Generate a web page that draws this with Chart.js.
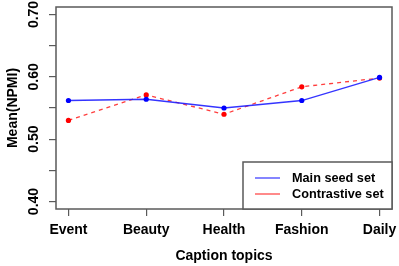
<!DOCTYPE html>
<html>
<head>
<meta charset="utf-8">
<script src="https://cdn.jsdelivr.net/npm/chart.js@4"></script>
<style>
  html, body { margin: 0; padding: 0; background: #fff; }
  #wrap { width: 399px; height: 266px; }
</style>
</head>
<body>
<div id="wrap"><canvas id="chart" width="399" height="266"></canvas></div>
<script>
const topics = ['Event', 'Beauty', 'Health', 'Fashion', 'Daily'];
const mainSeed = [0.562, 0.564, 0.550, 0.562, 0.599];
const contrastive = [0.530, 0.571, 0.540, 0.584, 0.598];
const yTicks = [0.40, 0.45, 0.50, 0.55, 0.60, 0.65, 0.70];
const yLabels = [0.40, 0.50, 0.60, 0.70];

const FONT = '"Liberation Sans", Arial, Helvetica, sans-serif';
const AXIS = '#5a5a5a';

// R style frame + legend in the bottom right corner
const frame = {
    id: 'frame',
    afterDraw(chart) {
        const {ctx, chartArea: a} = chart;
        ctx.save();
        ctx.strokeStyle = AXIS;
        ctx.lineWidth = 1.5;
        ctx.strokeRect(a.left, a.top, a.right - a.left, a.bottom - a.top);

        const lx = a.right - 149, ly = a.bottom - 47;
        ctx.fillStyle = '#fff';
        ctx.fillRect(lx, ly, a.right - lx, a.bottom - ly);
        ctx.strokeRect(lx, ly, a.right - lx, a.bottom - ly);

        ctx.font = 'bold 12.7px ' + FONT;
        ctx.textBaseline = 'middle';
        chart.data.datasets.forEach((ds, i) => {
            const y = ly + 16 + i * 16;
            ctx.strokeStyle = ds.borderColor;
            ctx.lineWidth = 1.2;
            ctx.beginPath();
            ctx.moveTo(lx + 12, y);
            ctx.lineTo(lx + 37, y);
            ctx.stroke();
            ctx.fillStyle = '#000';
            ctx.fillText(ds.label, lx + 49, y);
        });
        ctx.restore();
    }
};

new Chart(document.getElementById('chart'), {
    type: 'line',
    data: {
        datasets: [
            {
                label: 'Main seed set',
                data: mainSeed.map((v, i) => ({x: i + 1, y: v})),
                borderColor: 'rgba(30,30,255,0.9)',
                backgroundColor: '#0000ff',
                borderWidth: 1.3,
                pointRadius: 2.6,
                pointBorderWidth: 0
            },
            {
                label: 'Contrastive set',
                data: contrastive.map((v, i) => ({x: i + 1, y: v})),
                borderColor: 'rgba(255,40,40,0.9)',
                backgroundColor: '#ff0000',
                borderWidth: 1.3,
                borderDash: [4, 4],
                pointRadius: 2.6,
                pointBorderWidth: 0
            }
        ]
    },
    options: {
        responsive: false,
        animation: false,
        layout: {padding: {top: 7, right: 7, left: 0, bottom: 0}},
        plugins: {
            legend: {display: false},
            tooltip: {enabled: false}
        },
        scales: {
            x: {
                type: 'linear',
                min: 0.84,
                max: 5.16,
                afterBuildTicks: scale => { scale.ticks = topics.map((t, i) => ({value: i + 1})); },
                afterFit: scale => {
                    scale.height = 57;
                    scale.paddingLeft = 0;
                    scale.paddingRight = 0;
                },
                grid: {drawOnChartArea: false, tickLength: 7, color: AXIS, lineWidth: 1.2},
                border: {display: false},
                ticks: {
                    color: '#000',
                    font: {family: FONT, size: 14, weight: 'bold'},
                    padding: 6,
                    maxRotation: 0,
                    autoSkip: false,
                    callback: v => topics[v - 1]
                },
                title: {
                    display: true,
                    text: 'Caption topics',
                    color: '#000',
                    font: {family: FONT, size: 14, weight: 'bold'},
                    padding: {top: 0, bottom: 1}
                }
            },
            y: {
                min: 0.388,
                max: 0.712,
                afterBuildTicks: scale => { scale.ticks = yTicks.map(v => ({value: v})); },
                afterFit: scale => {
                    scale.width = 56;
                    scale.paddingTop = 0;
                    scale.paddingBottom = 0;
                },
                grid: {drawOnChartArea: false, tickLength: 7, color: AXIS, lineWidth: 1.2},
                border: {display: false},
                ticks: {
                    color: '#000',
                    font: {family: FONT, size: 14, weight: 'bold'},
                    minRotation: 90,
                    maxRotation: 90,
                    crossAlign: 'center',
                    padding: 1,
                    autoSkip: false,
                    callback: v => yLabels.some(l => Math.abs(l - v) < 1e-6) ? v.toFixed(2) : ''
                },
                title: {
                    display: true,
                    text: 'Mean(NPMI)',
                    color: '#000',
                    font: {family: FONT, size: 14, weight: 'bold'},
                    padding: {top: 4.6, bottom: 0}
                }
            }
        }
    },
    plugins: [frame]
});
</script>
</body>
</html>
